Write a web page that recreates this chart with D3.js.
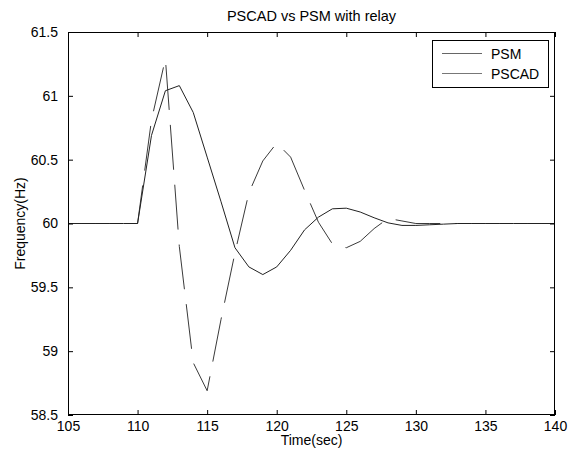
<!DOCTYPE html>
<html>
<head>
<meta charset="utf-8">
<script src="https://cdn.jsdelivr.net/npm/d3@7"></script>
<style>
  html, body { margin: 0; padding: 0; background: #fff; }
  svg text { font-family: "Liberation Sans", Arial, Helvetica, sans-serif; fill: #000; }
</style>
</head>
<body>
<svg id="chart" width="577" height="452"></svg>
<script>
// ---- data ----
const time = [105,106,107,108,109,110,111,112,113,114,115,116,117,118,119,120,121,122,123,124,125,126,127,128,129,130,131,132,133,134,135,136,137,138,139,140];
const psm = [60,60,60,60,60,60,60.81,61.29,59.82,58.91,58.69,59.25,59.77,60.24,60.49,60.63,60.52,60.26,60.01,59.84,59.81,59.86,59.96,60.04,60.02,60.0,60,60,60,60,60,60,60,60,60,60];
const pscad = [60,60,60,60,60,60,60.69,61.04,61.08,60.87,60.52,60.17,59.81,59.66,59.60,59.66,59.79,59.95,60.05,60.115,60.12,60.09,60.045,60.005,59.985,59.985,59.99,59.995,60,60,60,60,60,60,60,60];
const xTicks = [105,110,115,120,125,130,135,140];
const yTicks = [58.5,59,59.5,60,60.5,61,61.5];
const yTickLabels = ["58.5","59","59.5","60","60.5","61","61.5"];
const seriesNames = ["PSM","PSCAD"];
const titleText = "PSCAD vs PSM with relay";
const xLabel = "Time(sec)";
const yLabel = "Frequency(Hz)";

// ---- layout ----
const L = 68, R = 555, T = 32, B = 415;
const svg = d3.select("#chart");
const x = d3.scaleLinear().domain([105,140]).range([L,R]);
const y = d3.scaleLinear().domain([58.5,61.5]).range([B,T]);

svg.append("clipPath").attr("id","clip").append("rect")
  .attr("x",L).attr("y",T).attr("width",R-L).attr("height",B-T);

const line = d3.line().x(d=>x(d[0])).y(d=>y(d[1]));
const g = svg.append("g").attr("clip-path","url(#clip)");

g.append("path").datum(time.map((t,i)=>[t,psm[i]]))
  .attr("d",line).attr("fill","none").attr("stroke","#3a3a3a").attr("stroke-width",1)
  .attr("stroke-dasharray","45,15").attr("stroke-dashoffset",-3);
g.append("path").datum(time.map((t,i)=>[t,pscad[i]]))
  .attr("d",line).attr("fill","none").attr("stroke","#222").attr("stroke-width",1);

// axes (inward ticks, mirrored)
const fs = 14;
const xAxisB = d3.axisBottom(x).tickValues(xTicks).tickSizeInner(-5).tickSizeOuter(0).tickPadding(6).tickFormat(d3.format("d"));
const xAxisT = d3.axisTop(x).tickValues(xTicks).tickSizeInner(-5).tickSizeOuter(0).tickFormat("");
const yAxisL = d3.axisLeft(y).tickValues(yTicks).tickSizeInner(-5).tickSizeOuter(0).tickPadding(10).tickFormat((d,i)=>yTickLabels[i]);
const yAxisR = d3.axisRight(y).tickValues(yTicks).tickSizeInner(-5).tickSizeOuter(0).tickFormat("");

function style(sel){
  sel.select(".domain").remove();
  sel.selectAll("line").attr("stroke","#000").attr("stroke-width",1);
  sel.selectAll("text").attr("font-size",fs).attr("font-family","Liberation Sans, Arial, sans-serif").attr("fill","#000");
}
svg.append("g").attr("transform",`translate(0,${B})`).call(xAxisB).call(style);
svg.append("g").attr("transform",`translate(0,${T})`).call(xAxisT).call(style);
svg.append("g").attr("transform",`translate(${L},0)`).call(yAxisL).call(style);
svg.append("g").attr("transform",`translate(${R},0)`).call(yAxisR).call(style);

svg.append("rect").attr("x",L+0.5).attr("y",T+0.5).attr("width",R-L-1).attr("height",B-T-1)
  .attr("fill","none").attr("stroke","#000").attr("stroke-width",1);

svg.append("text").attr("x",(L+R)/2).attr("y",21).attr("text-anchor","middle")
  .attr("font-size",14.5).text(titleText);
svg.append("text").attr("x",(L+R)/2).attr("y",445).attr("text-anchor","middle")
  .attr("font-size",fs).text(xLabel);
svg.append("text").attr("transform",`translate(25,${(T+B)/2}) rotate(-90)`).attr("text-anchor","middle")
  .attr("font-size",fs).text(yLabel);

// legend
const lg = svg.append("g");
lg.append("rect").attr("x",432.5).attr("y",40.5).attr("width",116).attr("height",47)
  .attr("fill","#fff").attr("stroke","#000").attr("stroke-width",1);
const lys = [53.5, 73.5];
seriesNames.forEach((n,i)=>{
  lg.append("line").attr("x1",442).attr("x2",482).attr("y1",lys[i]).attr("y2",lys[i])
    .attr("stroke", i===0 ? "#666" : "#777").attr("stroke-width",1);
  lg.append("text").attr("x",491).attr("y",lys[i]).attr("dy","0.36em")
    .attr("font-size",fs).text(n);
});
</script>
</body>
</html>
